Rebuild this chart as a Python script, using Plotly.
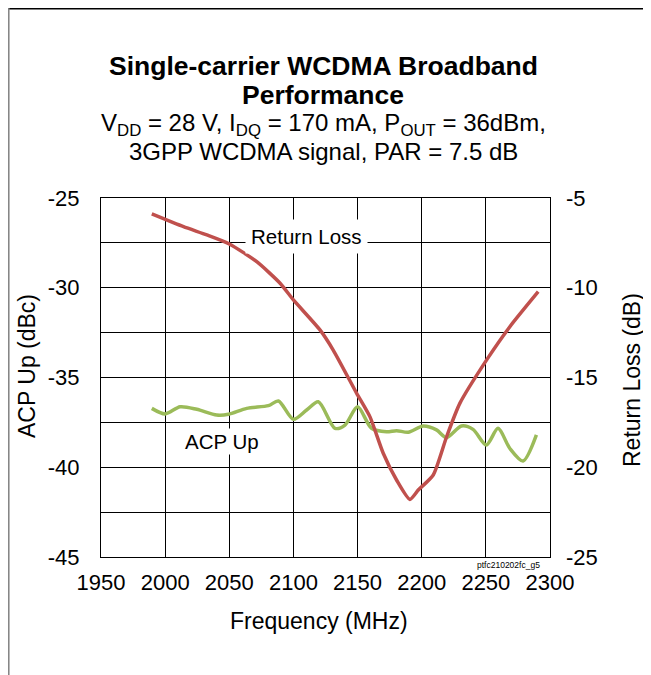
import plotly.graph_objects as go

# Return Loss (right axis, dB)
rl_freq = [1989.6, 2014.3, 2032.5, 2050.0, 2071.4, 2089.6, 2100.0, 2120.7, 2131.0, 2149.3,
           2159.6, 2170.0, 2180.4, 2190.8, 2197.3, 2209.0, 2219.4, 2229.7, 2250.5, 2268.7, 2290.8]
rl_vals = [-5.89, -6.6, -7.06, -7.56, -8.55, -9.75, -10.68, -12.35, -13.47, -15.88,
           -17.18, -19.22, -20.71, -21.79, -21.27, -20.43, -18.3, -16.44, -14.03, -12.17, -10.22]

# ACP Up (left axis, dBc)
acp_freq = [1989.6, 2000.0, 2011.7, 2024.6, 2040.2, 2049.3, 2063.6, 2080.5, 2088.3, 2100.0,
            2110.3, 2119.4, 2132.4, 2140.2, 2150.0, 2160.9, 2172.6, 2180.4, 2189.5, 2201.2,
            2211.5, 2219.3, 2231.0, 2240.0, 2250.4, 2259.5, 2268.6, 2279.0, 2289.4]
acp_vals = [-36.72, -37.03, -36.63, -36.77, -37.09, -37.05, -36.72, -36.57, -36.31, -37.33,
            -36.81, -36.35, -37.83, -37.65, -36.63, -37.83, -38.02, -37.96, -38.05, -37.70,
            -37.92, -38.35, -37.70, -37.89, -38.76, -37.83, -38.94, -39.65, -38.2]

x_ticks = [1950, 2000, 2050, 2100, 2150, 2200, 2250, 2300]
y1_ticks = [-45, -40, -35, -30, -25]
y2_ticks = [-25, -20, -15, -10, -5]

FONT = "Liberation Sans, Arial, sans-serif"

# page offset of the plot div (browser body margin)
OFF = 8
W, H = 643, 667
# plot area in page pixels
PX0, PX1, PY0, PY1 = 101, 550, 198, 557


def px(x):
    return (x - PX0) / (PX1 - PX0)


def py(y):
    return (PY1 - y) / (PY1 - PY0)


fig = go.Figure()
fig.add_trace(go.Scatter(x=acp_freq, y=acp_vals, mode="lines", name="ACP Up",
                         line=dict(color="#9BBB59", width=3.5, shape="spline", smoothing=0.8),
                         yaxis="y"))
fig.add_trace(go.Scatter(x=rl_freq, y=rl_vals, mode="lines", name="Return Loss",
                         line=dict(color="#C0504D", width=3.5, shape="spline", smoothing=0.6),
                         yaxis="y2"))

fig.update_layout(
    width=W, height=H,
    margin=dict(l=PX0 - OFF, r=W - (PX1 - OFF), t=PY0 - OFF, b=H - (PY1 - OFF), pad=0),
    paper_bgcolor="white", plot_bgcolor="white",
    showlegend=False,
    font=dict(family=FONT, color="black"),
    xaxis=dict(range=[1950, 2300], tickvals=x_ticks, ticktext=[str(v) for v in x_ticks],
               showgrid=True, gridcolor="black", gridwidth=1, showline=True,
               linecolor="black", linewidth=1, mirror=True, ticks="",
               tickfont=dict(size=22), ticklabelstandoff=6, zeroline=False),
    yaxis=dict(range=[-45, -25], tickvals=y1_ticks, ticktext=[str(v) for v in y1_ticks],
               showgrid=True, gridcolor="black", gridwidth=1, showline=True,
               linecolor="black", linewidth=1, mirror=True, ticks="",
               tickfont=dict(size=22), ticklabelstandoff=16, zeroline=False,
               minor=dict(dtick=2.5, tick0=-45, showgrid=True, gridcolor="black", gridwidth=1)),
    yaxis2=dict(range=[-25, -5], tickvals=y2_ticks, ticktext=[str(v) for v in y2_ticks],
                overlaying="y", side="right", showgrid=False, zeroline=False, ticks="",
                tickfont=dict(size=22), ticklabelstandoff=15),
)

texts = [
    ("<b>Single-carrier WCDMA Broadband</b>", 323, 66, 26.5, 0),
    ("<b>Performance</b>", 323, 95, 26.5, 0),
    ("V<sub>DD</sub> = 28 V, I<sub>DQ</sub> = 170 mA, P<sub>OUT</sub> = 36dBm,", 323, 125, 24, 0),
    ("3GPP WCDMA signal, PAR = 7.5 dB", 323, 152, 24, 0),
    ("Frequency (MHz)", 319, 621, 23, 0),
    ("ACP Up (dBc)", 27, 366, 23, -90),
    ("Return Loss (dB)", 632, 380, 23, -90),
    ("ptfc210202fc_g5", 508, 565, 8.5, 0),
]
anns = []
for t, x, y, s, ang in texts:
    anns.append(dict(text=t, xref="paper", yref="paper", x=px(x), y=py(y),
                     xanchor="center", yanchor="middle", showarrow=False,
                     textangle=ang, font=dict(size=s)))

anns.append(dict(text="Return Loss", x=2110, y=-27.15, xref="x", yref="y",
                 showarrow=False, font=dict(size=20.5), bgcolor="white",
                 xanchor="center", yanchor="middle", borderpad=5))
anns.append(dict(text="ACP Up", x=2044, y=-38.55, xref="x", yref="y",
                 showarrow=False, font=dict(size=20.5), bgcolor="white",
                 xanchor="center", yanchor="middle", borderpad=1))
fig.update_layout(annotations=anns)

# outer frame lines (top and left) of the figure box
fig.add_shape(type="line", xref="paper", yref="paper",
              x0=px(OFF), x1=px(OFF + W),
              y0=py(OFF + 0.8), y1=py(OFF + 0.8),
              line=dict(color="black", width=1.5))
fig.add_shape(type="line", xref="paper", yref="paper",
              x0=px(OFF + 0.8), x1=px(OFF + 0.8),
              y0=py(OFF), y1=py(OFF + H),
              line=dict(color="#808080", width=1.5))

fig.write_html("out.html")
